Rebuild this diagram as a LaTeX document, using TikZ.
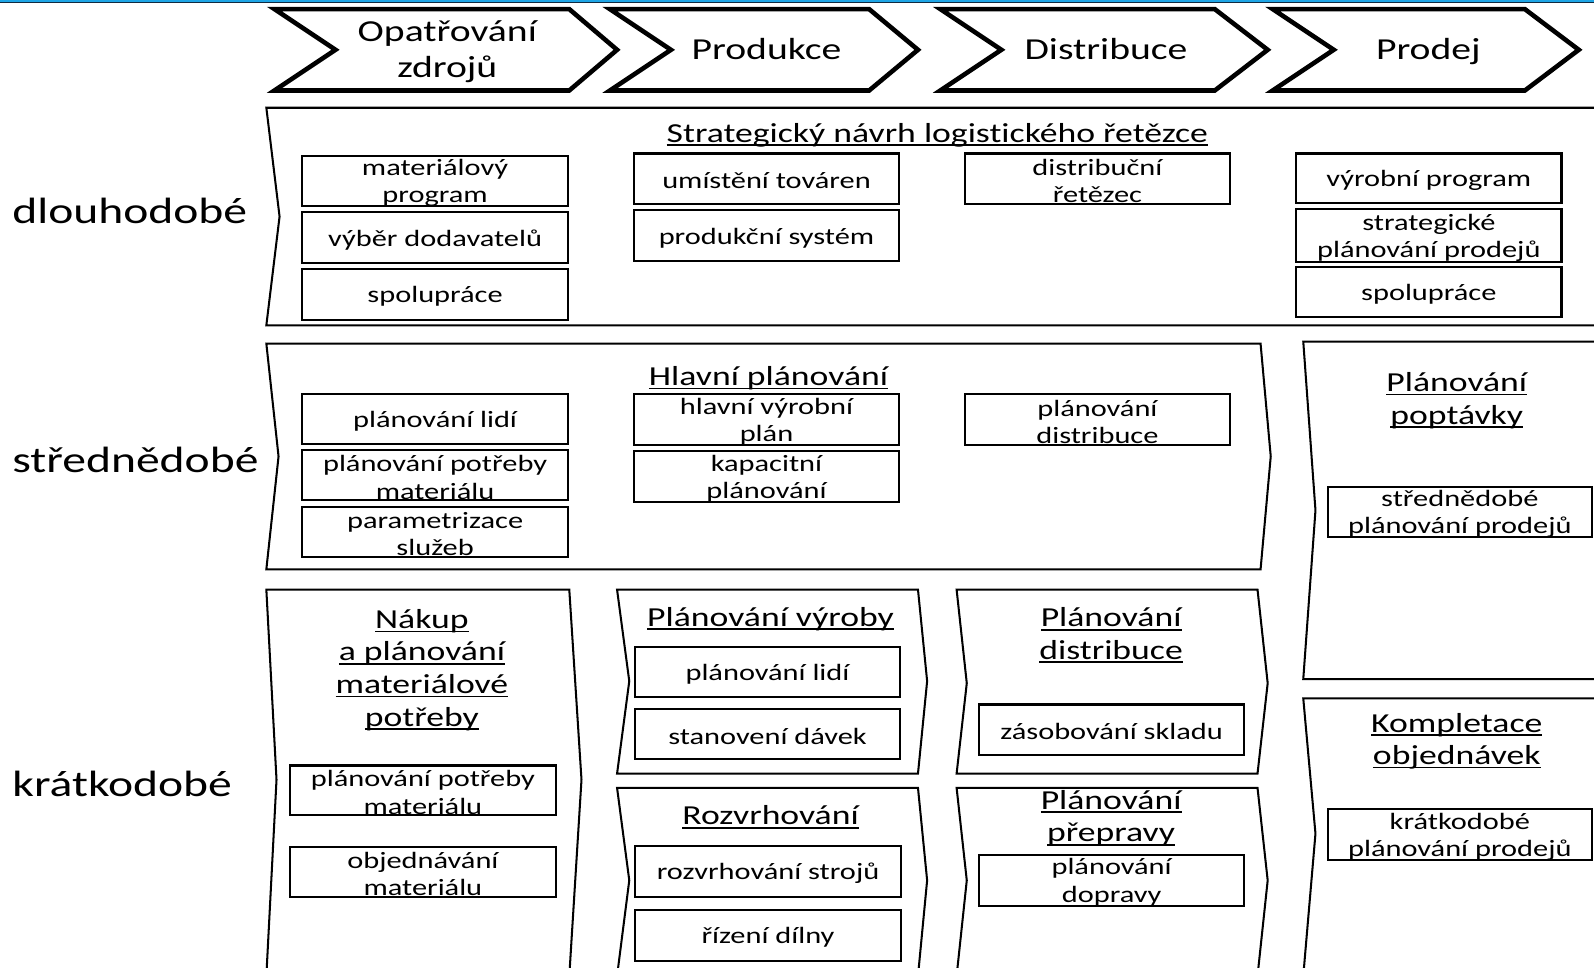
\documentclass[tikz,border=0pt]{standalone}
\usepackage{fontspec}
\setmainfont{Carlito}[FakeStretch=1.3, Ligatures=NoCommon]
\newcommand\ulx[1]{\setbox0=\hbox{#1}\rlap{\rule[-0.14em]{\wd0}{0.065em}}\box0}
\definecolor{stripblue}{HTML}{1EA5E6}
\definecolor{stripdark}{HTML}{102A40}
\tikzset{
  bx/.style={draw, line width=2pt, minimum width=262pt, minimum height=50pt, inner sep=0pt},
  lbl/.style={inner sep=0pt, align=center, yshift=-2pt, font=\fontsize{23}{27}\selectfont},
  ttl/.style={inner sep=0pt, align=center, yshift=-2pt, font=\fontsize{27}{32}\selectfont},
  chev/.style={line width=4.5pt, miter limit=10},
  chevtxt/.style={inner sep=0pt, align=center, font=\fontsize{30}{36}\selectfont},
  rowlab/.style={inner sep=0pt, anchor=west, font=\fontsize{36}{40}\selectfont},
  panel/.style={line width=2pt}
}
\begin{document}
\begin{tikzpicture}[x=1pt,y=-1pt]
\useasboundingbox (0,0) rectangle (1568,952);
\fill[white] (0,0) rectangle (1568,952);
% top strip
\fill[stripblue] (0,0) rectangle (1568,2);
\fill[stripdark] (0,2) rectangle (1568,3.2);
% chevrons
\draw[chev] (270,9) -- (560,9) -- (607,49) -- (560,89) -- (270,89) -- (330,49) -- cycle;
\draw[chev] (600,9) -- (855,9) -- (903,49) -- (855,89) -- (600,89) -- (660,49) -- cycle;
\draw[chev] (925,9) -- (1195,9) -- (1247,49) -- (1195,89) -- (925,89) -- (985,49) -- cycle;
\draw[chev] (1252,9) -- (1500,9) -- (1553,49) -- (1500,89) -- (1252,89) -- (1312,49) -- cycle;
\node[chevtxt] (c1) at (440,51) {Opatřování\\zdrojů};
\node[chevtxt, anchor=base] (c2) at (754,59) {Produkce};
\node[chevtxt, anchor=base] (c3) at (1088,59) {Distribuce};
\node[chevtxt, anchor=base] (c4) at (1405,59) {Prodej};
% row labels
\node[rowlab] (r1) at (12,207) {dlouhodobé};
\node[rowlab] (r2) at (12,452) {střednědobé};
\node[rowlab] (r3) at (12,771) {krátkodobé};
% panels
\draw[panel] (1570,106) -- (262,106) -- (275,213) -- (262,320) -- (1570,320);
\draw[panel] (262,338) -- (1240,338) -- (1250,449) -- (1240,560) -- (262,560) -- (274,449) -- cycle;
\draw[panel] (1570,336) -- (1282,336) -- (1294,502) -- (1282,668) -- (1570,668);
\draw[panel] (1570,687) -- (1282,687) -- (1294,820) -- (1282,960);
\draw[panel] (262,960) -- (272,767) -- (262,580) -- (560,580) -- (572,767) -- (560,960);
\draw[panel] (607,580) -- (903,580) -- (912,670) -- (903,761) -- (607,761) -- (619,670) -- cycle;
\draw[panel] (607,960) -- (619,866) -- (607,775) -- (903,775) -- (912,866) -- (903,960);
\draw[panel] (941,580) -- (1237,580) -- (1247,672) -- (1237,761) -- (941,761) -- (951,672) -- cycle;
\draw[panel] (941,960) -- (951,866) -- (941,775) -- (1237,775) -- (1247,866) -- (1237,960);
% titles
\node[ttl] (t1) at (922,131) {\ulx{Strategický návrh logistického řetězce}};
\node[ttl] (t2) at (756,370) {\ulx{Hlavní plánování}};
\node[ttl] (t3) at (1433,392) {\ulx{Plánování}\\\ulx{poptávky}};
\node[ttl] (t4) at (1433,727) {\ulx{Kompletace}\\\ulx{objednávek}};
\node[ttl] (t5) at (415,657) {\ulx{Nákup}\\\ulx{a plánování}\\\ulx{materiálové}\\\ulx{potřeby}};
\node[ttl] (t6) at (758,607) {\ulx{Plánování výroby}};
\node[ttl] (t7) at (758,802) {\ulx{Rozvrhování}};
\node[ttl] (t8) at (1093,623) {\ulx{Plánování}\\\ulx{distribuce}};
\node[ttl] (t9) at (1093,803) {\ulx{Plánování}\\\ulx{přepravy}};
% long-term boxes
\node[bx, label={[lbl]center:{materiálový\\program}}] (a1) at (428,178) {};
\node[bx, label={[lbl]center:{výběr dodavatelů}}] (a2) at (428,234) {};
\node[bx, label={[lbl]center:{spolupráce}}] (a3) at (428,289.5) {};
\node[bx, minimum width=260pt, label={[lbl]center:{umístění továren}}] (a4) at (754,176) {};
\node[bx, minimum width=260pt, label={[lbl]center:{produkční systém}}] (a5) at (754,232) {};
\node[bx, minimum width=261pt, label={[lbl]center:{distribuční\\řetězec}}] (a6) at (1079.5,176) {};
\node[bx, minimum width=261pt, minimum height=49pt, label={[lbl]center:{výrobní program}}] (a7) at (1405.5,175.5) {};
\node[bx, minimum width=261pt, minimum height=52pt, label={[lbl]center:{strategické\\plánování prodejů}}] (a8) at (1405.5,232) {};
\node[bx, minimum width=261pt, minimum height=49pt, label={[lbl]center:{spolupráce}}] (a9) at (1405.5,287.5) {};
% mid-term boxes
\node[bx, minimum height=49pt, label={[lbl]center:{plánování lidí}}] (b1) at (428,412.5) {};
\node[bx, minimum height=49pt, label={[lbl]center:{plánování potřeby\\materiálu}}] (b2) at (428,467.5) {};
\node[bx, minimum height=49pt, label={[lbl]center:{parametrizace\\služeb}}] (b3) at (428,523.5) {};
\node[bx, minimum width=260pt, label={[lbl]center:{hlavní výrobní\\plán}}] (b4) at (754,413) {};
\node[bx, minimum width=260pt, label={[lbl]center:{kapacitní\\plánování}}] (b5) at (754,469) {};
\node[bx, minimum width=261pt, label={[lbl]center:{plánování\\distribuce}}] (b6) at (1079.5,413) {};
\node[bx, minimum width=260pt, minimum height=49pt, label={[lbl]center:{střednědobé\\plánování prodejů}}] (b7) at (1436,503.5) {};
% short-term boxes
\node[bx, minimum height=49pt, label={[lbl]center:{plánování potřeby\\materiálu}}] (s1) at (416,777.5) {};
\node[bx, minimum height=49pt, label={[lbl]center:{objednávání\\materiálu}}] (s2) at (416,857.5) {};
\node[bx, minimum width=260pt, label={[lbl]center:{plánování lidí}}] (s3) at (755,661) {};
\node[bx, minimum width=260pt, label={[lbl]center:{stanovení dávek}}] (s4) at (755,722) {};
\node[bx, minimum width=261pt, label={[lbl]center:{rozvrhování strojů}}] (s5) at (755.5,857) {};
\node[bx, minimum width=261pt, label={[lbl]center:{řízení dílny}}] (s6) at (755.5,920) {};
\node[bx, minimum width=261pt, label={[lbl]center:{zásobování skladu}}] (s7) at (1093.5,718) {};
\node[bx, minimum width=261pt, label={[lbl]center:{plánování\\dopravy}}] (s8) at (1093.5,866) {};
\node[bx, minimum width=260pt, label={[lbl]center:{krátkodobé\\plánování prodejů}}] (s9) at (1436,821) {};
\end{tikzpicture}
\end{document}
